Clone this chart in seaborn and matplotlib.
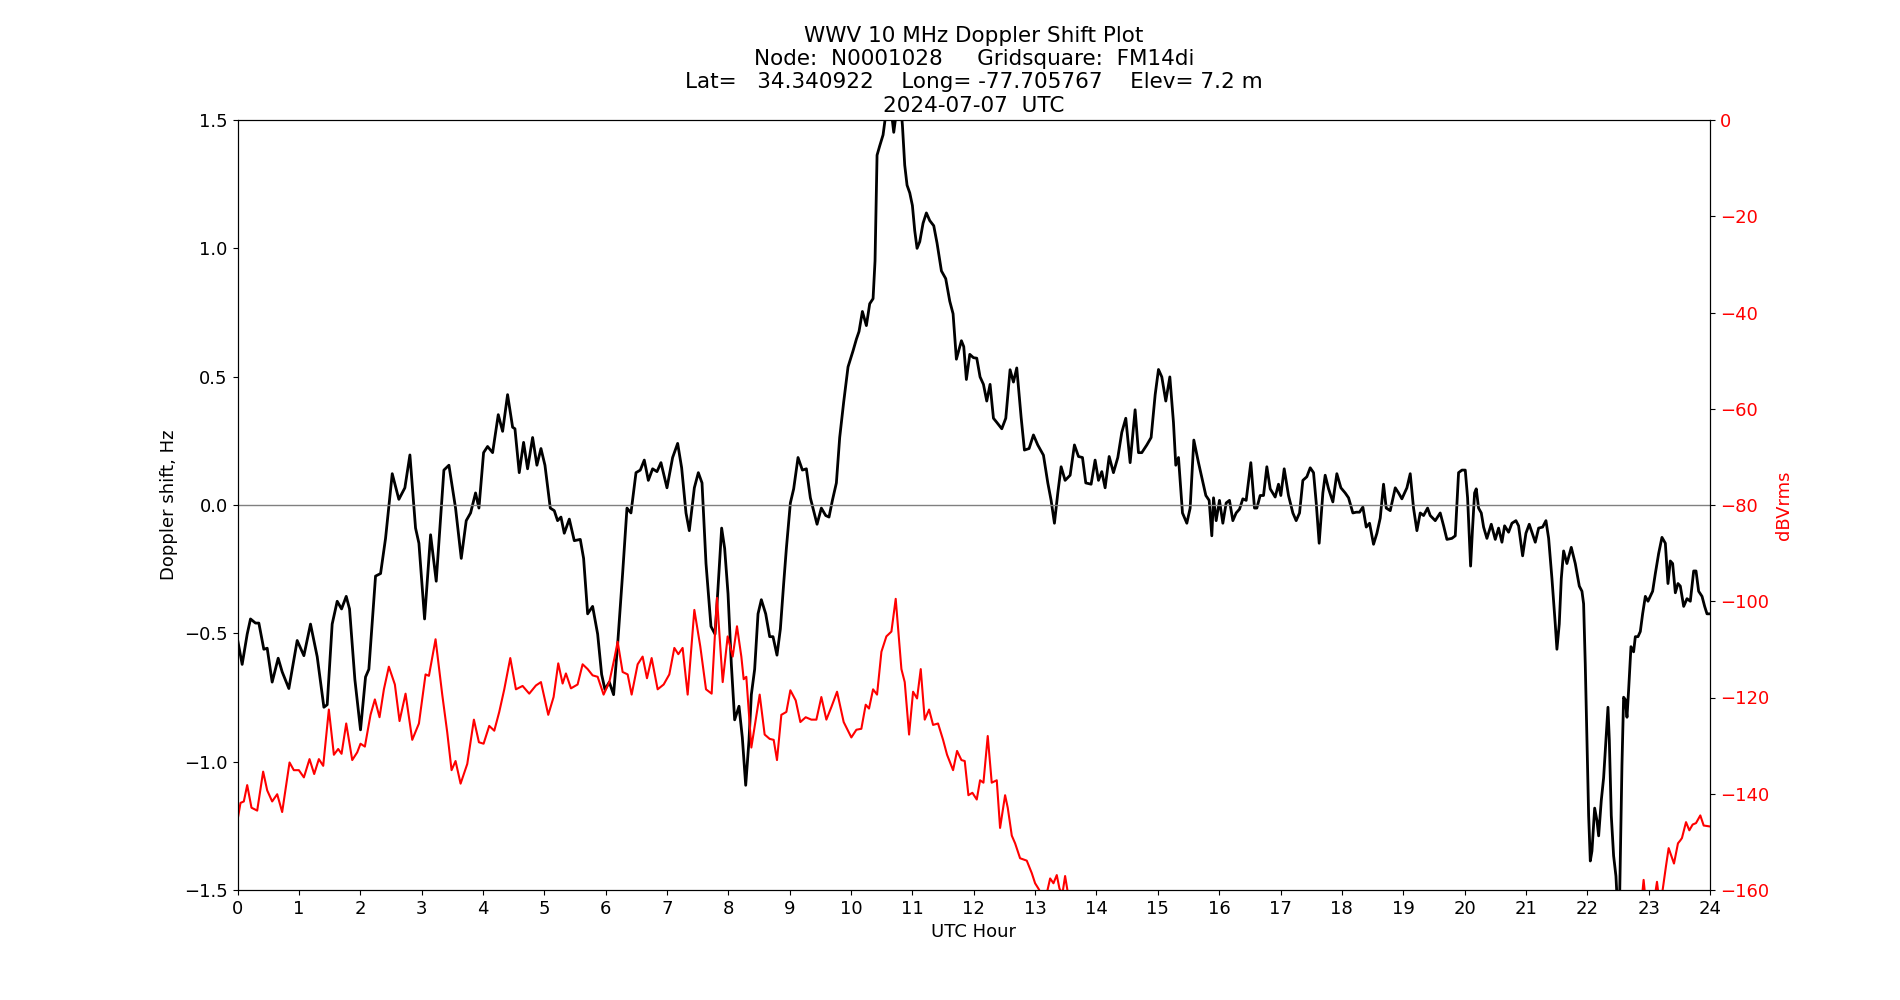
import matplotlib
matplotlib.use("Agg")
import numpy as np
import pandas as pd
import matplotlib.pyplot as plt
import seaborn as sns

# Doppler shift trace (black), UTC hour vs Hz
doppler_hours = [
    0.0, 0.076, 0.158, 0.212, 0.293, 0.348, 0.429, 0.484, 0.565, 0.663, 0.728, 0.837, 0.973,
    1.082, 1.190, 1.299, 1.408, 1.462, 1.543, 1.625, 1.696, 1.772, 1.826, 1.913, 2.005, 2.087,
    2.141, 2.250, 2.332, 2.413, 2.522, 2.630, 2.728, 2.810, 2.902, 2.957, 3.049, 3.147, 3.239,
    3.364, 3.446, 3.554, 3.647, 3.728, 3.799, 3.880, 3.935,
    4.011, 4.076, 4.158, 4.250, 4.321, 4.402, 4.484, 4.522, 4.592, 4.663, 4.728, 4.810, 4.880,
    4.946, 5.011, 5.098, 5.163, 5.217, 5.272, 5.326, 5.408, 5.489, 5.587, 5.641, 5.707, 5.788,
    5.870, 5.935, 5.989, 6.060, 6.130, 6.196, 6.277, 6.348, 6.413, 6.495, 6.565, 6.630, 6.696,
    6.766, 6.837, 6.902, 7.0, 7.092, 7.174, 7.239, 7.310, 7.364, 7.446, 7.511, 7.571, 7.636,
    7.717, 7.783, 7.826, 7.891,
    7.940, 7.995, 8.049, 8.103, 8.174, 8.228, 8.283, 8.337, 8.375, 8.429, 8.484, 8.538, 8.609,
    8.674, 8.728, 8.793, 8.848, 8.902, 8.946, 9.011, 9.065, 9.136, 9.207, 9.272, 9.337, 9.380,
    9.446, 9.516, 9.587, 9.641, 9.696, 9.761, 9.815, 9.880, 9.951, 10.033, 10.087, 10.130,
    10.185, 10.250, 10.304, 10.359, 10.391, 10.424, 10.467, 10.522, 10.560, 10.603, 10.658,
    10.696, 10.739, 10.793, 10.837, 10.875, 10.913, 10.957, 11.0, 11.038, 11.076, 11.120,
    11.174, 11.228, 11.283, 11.348, 11.402, 11.473, 11.543, 11.609, 11.663, 11.717, 11.761,
    11.799, 11.837, 11.880, 11.935,
    11.995, 12.049, 12.103, 12.158, 12.212, 12.266, 12.321, 12.375, 12.457, 12.522, 12.592,
    12.647, 12.701, 12.772, 12.826, 12.902, 12.973, 13.043, 13.136, 13.207, 13.261, 13.315,
    13.370, 13.424, 13.489, 13.571, 13.641, 13.707, 13.772, 13.826, 13.913, 13.978, 14.033,
    14.087, 14.141, 14.207, 14.277, 14.348, 14.413, 14.478, 14.549, 14.630, 14.685, 14.739,
    14.821, 14.891, 14.957, 15.011, 15.065, 15.130, 15.196, 15.255, 15.293, 15.337, 15.402,
    15.473, 15.527, 15.587, 15.663, 15.728, 15.783, 15.837,
    15.880, 15.908, 15.951, 16.005, 16.060, 16.114, 16.168, 16.223, 16.277, 16.332, 16.386,
    16.440, 16.516, 16.576, 16.614, 16.668, 16.723, 16.777, 16.832, 16.913, 16.967, 17.005,
    17.060, 17.130, 17.201, 17.255, 17.310, 17.364, 17.429, 17.484, 17.538, 17.582, 17.630,
    17.690, 17.728, 17.783, 17.853, 17.918, 17.984, 18.054, 18.109, 18.179, 18.234, 18.288,
    18.342, 18.397, 18.451, 18.516, 18.571, 18.625, 18.679, 18.723, 18.788, 18.870, 18.924,
    18.978, 19.060, 19.114, 19.168, 19.223, 19.277, 19.332, 19.397, 19.440, 19.522, 19.603,
    19.658, 19.712, 19.793, 19.848, 19.902, 19.957, 20.011, 20.049,
    20.098, 20.130, 20.163, 20.190, 20.228, 20.272, 20.310, 20.364, 20.435, 20.5, 20.554,
    20.609, 20.652, 20.717, 20.772, 20.837, 20.880, 20.946, 21.0, 21.054, 21.098, 21.152,
    21.207, 21.272, 21.326, 21.370, 21.424, 21.478, 21.505, 21.543, 21.576, 21.614, 21.668,
    21.739, 21.804, 21.870, 21.913, 21.940, 21.967, 21.995, 22.022, 22.049, 22.076, 22.120,
    22.158, 22.185, 22.228, 22.266, 22.304, 22.337, 22.359, 22.391, 22.429, 22.467, 22.5,
    22.522, 22.565, 22.592, 22.620, 22.647, 22.674, 22.712, 22.755, 22.783, 22.826, 22.864,
    22.902, 22.946, 22.989, 23.027, 23.065, 23.109, 23.163, 23.217, 23.272, 23.315, 23.353,
    23.391, 23.435, 23.478, 23.516, 23.571, 23.625, 23.679, 23.734, 23.772, 23.815, 23.870,
    23.913, 23.951, 24.0,
]
doppler_hz = [
    -0.523, -0.621, -0.503, -0.444, -0.460, -0.460, -0.562, -0.558, -0.690, -0.597, -0.650, -0.715, -0.528,
    -0.587, -0.464, -0.591, -0.788, -0.778, -0.464, -0.375, -0.405, -0.356, -0.405, -0.680, -0.876, -0.670,
    -0.640, -0.277, -0.267, -0.130, 0.122, 0.022, 0.067, 0.195, -0.090, -0.149, -0.444, -0.116, -0.297,
    0.136, 0.155, -0.012, -0.208, -0.061, -0.031, 0.047, -0.012,
    0.204, 0.228, 0.204, 0.352, 0.287, 0.430, 0.303, 0.297, 0.126, 0.244, 0.141, 0.263, 0.155,
    0.220, 0.155, -0.012, -0.022, -0.061, -0.047, -0.110, -0.055, -0.139, -0.134, -0.208, -0.424, -0.395,
    -0.503, -0.660, -0.719, -0.690, -0.739, -0.542, -0.267, -0.012, -0.031, 0.126, 0.136, 0.175, 0.096,
    0.141, 0.130, 0.165, 0.067, 0.185, 0.240, 0.145, -0.031, -0.100, 0.067, 0.126, 0.086, -0.228,
    -0.473, -0.503, -0.346, -0.090,
    -0.169, -0.346, -0.621, -0.837, -0.784, -0.906, -1.092, -0.916, -0.739, -0.640, -0.424, -0.369, -0.424,
    -0.513, -0.513, -0.585, -0.483, -0.306, -0.169, 0.008, 0.063, 0.185, 0.136, 0.141, 0.028, -0.012,
    -0.075, -0.012, -0.041, -0.047, 0.018, 0.086, 0.263, 0.401, 0.538, 0.601, 0.646, 0.676,
    0.754, 0.699, 0.784, 0.804, 0.951, 1.363, 1.399, 1.442, 1.511, 1.6, 1.53,
    1.452, 1.53, 1.6, 1.481, 1.324, 1.246, 1.216, 1.167, 1.069, 1.0, 1.026,
    1.098, 1.138, 1.108, 1.088, 1.020, 0.912, 0.882, 0.794, 0.745, 0.568, 0.607,
    0.640, 0.617, 0.489, 0.587,
    0.574, 0.572, 0.499, 0.470, 0.405, 0.470, 0.338, 0.322, 0.297, 0.338, 0.527,
    0.479, 0.534, 0.342, 0.214, 0.220, 0.273, 0.234, 0.194, 0.086, 0.018, -0.071,
    0.047, 0.149, 0.096, 0.116, 0.234, 0.189, 0.185, 0.086, 0.081, 0.175, 0.096,
    0.130, 0.067, 0.189, 0.126, 0.185, 0.283, 0.338, 0.165, 0.371, 0.204, 0.204,
    0.234, 0.263, 0.430, 0.528, 0.499, 0.405, 0.499, 0.322, 0.155, 0.185, -0.031,
    -0.071, -0.012, 0.253, 0.165, 0.096, 0.037, 0.018,
    -0.120, 0.028, -0.061, 0.018, -0.071, 0.008, 0.018, -0.061, -0.031, -0.016, 0.024,
    0.018, 0.165, -0.012, -0.012, 0.037, 0.037, 0.149, 0.063, 0.031, 0.081, 0.037,
    0.141, 0.037, -0.031, -0.061, -0.031, 0.096, 0.110, 0.145, 0.126, 0.008, -0.149,
    0.047, 0.116, 0.063, 0.012, 0.122, 0.067, 0.047, 0.028, -0.031, -0.028, -0.028,
    -0.008, -0.086, -0.071, -0.153, -0.110, -0.051, 0.081, -0.012, -0.022, 0.067, 0.047,
    0.024, 0.067, 0.122, -0.012, -0.100, -0.031, -0.041, -0.012, -0.041, -0.061, -0.031,
    -0.081, -0.134, -0.130, -0.120, 0.126, 0.136, 0.136, 0.028,
    -0.238, -0.090, 0.047, 0.063, -0.012, -0.031, -0.086, -0.130, -0.075, -0.134, -0.090,
    -0.145, -0.081, -0.106, -0.071, -0.061, -0.081, -0.198, -0.110, -0.075, -0.106, -0.145,
    -0.090, -0.086, -0.061, -0.130, -0.287, -0.464, -0.562, -0.464, -0.287, -0.179, -0.228,
    -0.165, -0.228, -0.316, -0.336, -0.385, -0.621, -0.916, -1.210, -1.387, -1.348, -1.181,
    -1.230, -1.289, -1.151, -1.063, -0.916, -0.788, -0.916, -1.210, -1.367, -1.446, -1.6,
    -1.6, -1.014, -0.749, -0.758, -0.827, -0.719, -0.552, -0.572, -0.513, -0.513, -0.493,
    -0.424, -0.356, -0.375, -0.356, -0.336, -0.267, -0.189, -0.126, -0.149, -0.306, -0.218,
    -0.228, -0.342, -0.306, -0.316, -0.395, -0.365, -0.375, -0.257, -0.257, -0.336, -0.356,
    -0.395, -0.424, -0.424,
]

# Signal level trace (red), UTC hour vs dBVrms
level_hours = [
    0.0, 0.049, 0.103, 0.158, 0.228, 0.321, 0.418, 0.484, 0.565, 0.647, 0.728, 0.848, 0.918,
    1.0, 1.082, 1.174, 1.250, 1.326, 1.397, 1.489, 1.571, 1.641, 1.696, 1.772, 1.870, 1.951,
    2.005, 2.076, 2.168, 2.239, 2.315, 2.386, 2.467, 2.565, 2.641, 2.739, 2.848, 2.957, 3.065,
    3.120, 3.228, 3.337, 3.418, 3.489, 3.554, 3.636, 3.745, 3.853, 3.935,
    4.011, 4.103, 4.185, 4.266, 4.348, 4.446, 4.538, 4.647, 4.755, 4.864, 4.946, 5.065, 5.152,
    5.228, 5.299, 5.353, 5.435, 5.543, 5.625, 5.707, 5.788, 5.870, 5.967, 6.060, 6.141, 6.196,
    6.277, 6.359, 6.424, 6.522, 6.603, 6.674, 6.750, 6.848, 6.946, 7.038, 7.120, 7.185, 7.255,
    7.337, 7.446, 7.543, 7.636, 7.728, 7.815, 7.908, 7.989, 8.071,
    8.141, 8.212, 8.250, 8.293, 8.375, 8.446, 8.511, 8.592, 8.674, 8.739, 8.793, 8.864, 8.946,
    9.011, 9.098, 9.174, 9.261, 9.353, 9.435, 9.516, 9.598, 9.679, 9.772, 9.880, 10.005, 10.087,
    10.168, 10.239, 10.293, 10.359, 10.424, 10.495, 10.576, 10.658, 10.728, 10.821, 10.875,
    10.946, 11.011, 11.076, 11.136, 11.201, 11.272, 11.337, 11.418, 11.5, 11.565, 11.663,
    11.728, 11.799, 11.853,
    11.913, 11.978, 12.049, 12.103, 12.158, 12.228, 12.293, 12.375, 12.429, 12.511, 12.554,
    12.620, 12.674, 12.755, 12.864, 12.946, 13.0, 13.054, 13.109, 13.190, 13.245, 13.299,
    13.353, 13.397, 13.446, 13.489, 13.543, 13.6,
    22.85, 22.864, 22.918, 22.957, 23.08, 23.136, 23.17, 23.228, 23.283, 23.326, 23.370,
    23.413, 23.478, 23.516, 23.543, 23.609, 23.663, 23.717, 23.772, 23.842, 23.897, 24.0,
]
level_dbv = [
    -145.5, -141.9, -141.6, -138.2, -142.9, -143.5, -135.4, -139.3, -141.6, -140.1, -143.8, -133.5, -135.1,
    -135.1, -136.6, -132.8, -135.9, -132.8, -134.2, -122.5, -131.9, -130.7, -131.7, -125.4, -133.0, -131.4,
    -129.6, -130.2, -123.6, -120.4, -124.1, -118.3, -113.6, -117.3, -124.9, -119.2, -128.8, -125.4, -115.2,
    -115.5, -107.9, -119.4, -127.2, -135.1, -133.2, -137.9, -133.8, -124.6, -129.3,
    -129.6, -125.9, -126.9, -123.0, -118.3, -111.8, -118.3, -117.6, -119.2, -117.5, -116.8, -123.6, -119.9,
    -112.9, -117.1, -115.0, -118.1, -117.3, -113.1, -114.1, -115.4, -115.7, -119.4, -116.8, -112.0, -108.4,
    -114.7, -115.2, -119.4, -113.1, -111.5, -116.0, -111.8, -118.3, -117.3, -115.2, -109.7, -111.0, -109.7,
    -119.4, -101.8, -109.4, -118.3, -119.2, -99.3, -116.8, -107.3, -111.5,
    -105.2, -111.5, -116.2, -115.7, -130.4, -124.6, -119.4, -127.7, -128.6, -128.8, -133.0, -123.6, -123.0,
    -118.5, -120.6, -125.1, -124.1, -124.6, -124.6, -119.9, -124.6, -122.0, -118.8, -125.1, -128.3, -126.7,
    -126.5, -121.5, -122.3, -118.3, -119.4, -110.5, -107.3, -106.3, -99.5, -114.1, -116.8,
    -127.7, -118.8, -120.2, -114.1, -124.6, -122.5, -125.7, -125.4, -128.8, -131.9, -135.1,
    -131.1, -133.0, -133.2,
    -140.3, -139.8, -141.2, -137.2, -137.7, -128.0, -137.7, -137.2, -147.1, -140.3, -142.9,
    -148.7, -150.3, -153.4, -153.9, -156.5, -158.6, -159.7, -161.0, -160.7, -157.6, -158.6,
    -156.9, -159.7, -160.7, -157.1, -161.3, -170.0,
    -170.0, -165.0, -157.9, -163.0, -163.0, -158.3, -162.0, -160.0, -155.0, -151.3, -152.9,
    -154.5, -150.3, -149.7, -149.2, -145.9, -147.6, -146.4, -146.1, -144.5, -146.6, -146.8,
]

doppler = pd.DataFrame({"hour": doppler_hours, "shift": doppler_hz})
level = pd.DataFrame({"hour": level_hours, "dbv": level_dbv})

fig, ax = plt.subplots(figsize=(19, 10), dpi=100)

sns.lineplot(data=doppler, x="hour", y="shift", ax=ax, color="black", linewidth=2)
ax.axhline(0, color="gray", linewidth=1)
ax.set_xlim(0, 24)
ax.set_ylim(-1.5, 1.5)
ax.set_xticks(np.arange(0, 25, 1))
ax.set_xlabel("UTC Hour", fontsize=13)
ax.set_ylabel("Doppler shift, Hz", fontsize=13)
ax.tick_params(labelsize=13)

ax2 = ax.twinx()
sns.lineplot(data=level, x="hour", y="dbv", ax=ax2, color="red", linewidth=1.5)
ax2.set_ylim(-160, 0)
ax2.set_ylabel("dBVrms", color="red", fontsize=13)
ax2.tick_params(axis="y", labelcolor="red", labelsize=13)
ax2.set_xlim(0, 24)

ax.set_title("WWV 10 MHz Doppler Shift Plot\n"
             "Node:  N0001028     Gridsquare:  FM14di\n"
             "Lat=   34.340922    Long= -77.705767    Elev= 7.2 m\n"
             "2024-07-07  UTC", fontsize=15.5)

plt.savefig("out.png")
